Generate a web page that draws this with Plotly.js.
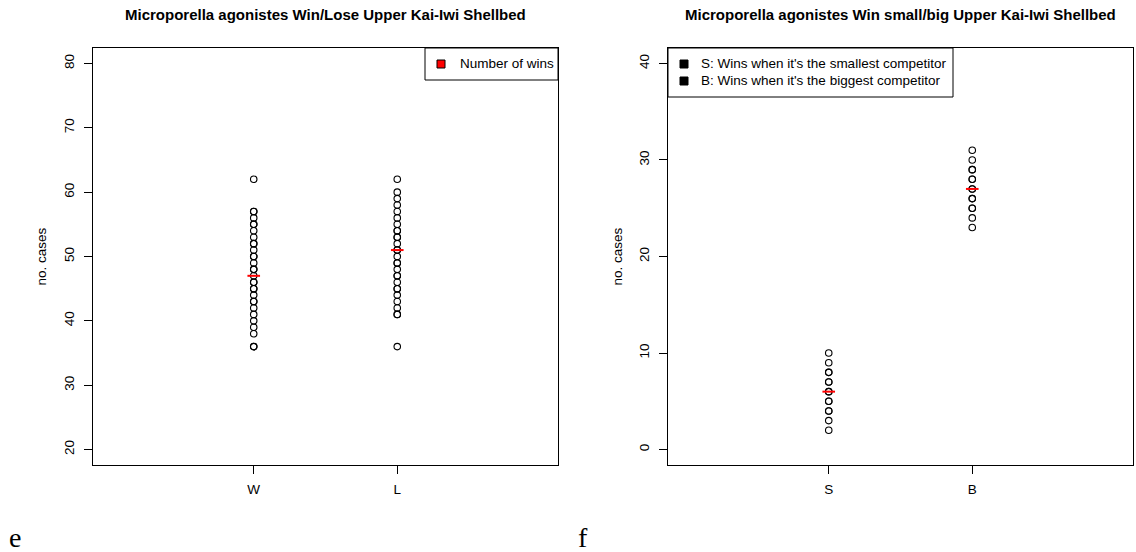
<!DOCTYPE html>
<html>
<head>
<meta charset="utf-8">
<script src="https://cdn.plot.ly/plotly-3.0.1.min.js"></script>
<style>html,body{margin:0;padding:0;background:#fff;}#chart{width:1136px;height:552px;}</style>
</head>
<body>
<div id="chart"></div>
<script>
// ---- data ----
var catsWL = ['W', 'L'];
var winsW = [62, 57, 57, 56, 55, 55, 54, 53, 52, 52, 51, 50, 50, 49, 48, 48, 47, 46, 46, 45, 45, 44, 43, 43, 42, 41, 40, 39, 38, 36, 36];
var winsL = [62, 60, 59, 58, 57, 56, 55, 54, 54, 53, 53, 52, 51, 51, 50, 49, 49, 48, 47, 47, 46, 45, 45, 44, 43, 42, 41, 41, 36];
var meanWL = [47, 51];

var catsSB = ['S', 'B'];
var winsS = [10, 9, 8, 8, 7, 7, 6, 6, 5, 5, 4, 4, 3, 2];
var winsB = [31, 30, 29, 29, 28, 28, 27, 27, 26, 26, 25, 25, 24, 23];
var meanSB = [6, 27];

var ticksWL = [20, 30, 40, 50, 60, 70, 80];
var ticksSB = [0, 10, 20, 30, 40];
var catPos = [1, 2];

var titleWL = 'Microporella agonistes Win/Lose Upper Kai-Iwi Shellbed';
var titleSB = 'Microporella agonistes Win small/big Upper Kai-Iwi Shellbed';
var legendWL = ['Number of wins'];
var legendSB = ["S: Wins when it's the smallest competitor", "B: Wins when it's the biggest competitor"];

// ---- build ----
var W = 1136, H = 552;
function px(x) { return x / W; }
function py(y) { return 1 - y / H; }
var FONT = 'Liberation Sans, Arial, Helvetica, sans-serif';
var FS = 13.5;

function fill(v, n) { var a = []; for (var i = 0; i < n; i++) a.push(v); return a; }

var ptMarker = { symbol: 'circle-open', size: 6.5, color: '#000', line: { width: 1.1, color: '#000' } };
var meanMarker = { symbol: 'line-ew-open', size: 9, color: '#ff0000', line: { width: 2, color: '#ff0000' } };

var traces = [
  { type: 'scatter', mode: 'markers', x: fill(catPos[0], winsW.length), y: winsW, marker: ptMarker, xaxis: 'x', yaxis: 'y', hoverinfo: 'y' },
  { type: 'scatter', mode: 'markers', x: fill(catPos[1], winsL.length), y: winsL, marker: ptMarker, xaxis: 'x', yaxis: 'y', hoverinfo: 'y' },
  { type: 'scatter', mode: 'markers', x: catPos, y: meanWL, marker: meanMarker, xaxis: 'x', yaxis: 'y' },
  { type: 'scatter', mode: 'markers', x: fill(catPos[0], winsS.length), y: winsS, marker: ptMarker, xaxis: 'x2', yaxis: 'y2', hoverinfo: 'y' },
  { type: 'scatter', mode: 'markers', x: fill(catPos[1], winsB.length), y: winsB, marker: ptMarker, xaxis: 'x2', yaxis: 'y2', hoverinfo: 'y' },
  { type: 'scatter', mode: 'markers', x: catPos, y: meanSB, marker: meanMarker, xaxis: 'x2', yaxis: 'y2' }
];

function xax(domain, cats) {
  return {
    domain: domain, range: [-0.12, 3.12], tickmode: 'array', tickvals: catPos, ticktext: cats,
    ticks: 'outside', ticklen: 8, tickcolor: '#000', tickwidth: 1, showline: true, mirror: true,
    linecolor: '#000', linewidth: 1, showgrid: false, zeroline: false, automargin: false,
    tickfont: { family: FONT, size: FS, color: '#000' }, ticklabelstandoff: 4, fixedrange: true
  };
}
function yax(domain, rng, tv, anchor) {
  return {
    domain: domain, range: rng, tickmode: 'array', tickvals: tv, ticktext: tv.map(String),
    ticks: 'outside', ticklen: 8, tickcolor: '#000', tickwidth: 1, showline: true, mirror: true,
    linecolor: '#000', linewidth: 1, showgrid: false, zeroline: false, automargin: false,
    tickangle: -90, tickfont: { family: FONT, size: FS, color: '#000' }, anchor: anchor,
    ticklabelstandoff: 5, fixedrange: true
  };
}

var yDom = [py(465), py(48)];
var layout = {
  width: W, height: H, margin: { l: 0, r: 0, t: 0, b: 0 }, showlegend: false,
  paper_bgcolor: '#fff', plot_bgcolor: '#fff',
  xaxis: xax([px(93), px(558)], catsWL),
  yaxis: yax(yDom, [17.6, 82.4], ticksWL, 'x'),
  xaxis2: Object.assign(xax([px(668), px(1133)], catsSB), { anchor: 'y2' }),
  yaxis2: yax(yDom, [-1.6, 41.6], ticksSB, 'x2'),
  annotations: [], shapes: []
};
layout.xaxis.anchor = 'y';

var ann = layout.annotations, shp = layout.shapes;
function text(t, x, y, opts) {
  ann.push(Object.assign({ text: t, x: px(x), y: py(y), xref: 'paper', yref: 'paper', showarrow: false,
    xanchor: 'center', yanchor: 'middle', font: { family: FONT, size: FS, color: '#000' } }, opts || {}));
}
// titles
text('<b>' + titleWL + '</b>', 325.5, 14, { font: { family: FONT, size: 15, color: '#000' } });
text('<b>' + titleSB + '</b>', 900.5, 14, { font: { family: FONT, size: 15, color: '#000' } });
// y axis titles
text('no. cases', 41, 256.5, { textangle: -90 });
text('no. cases', 617, 256.5, { textangle: -90 });
// panel letters
text('e', 15, 537, { font: { family: 'Liberation Serif, Times New Roman, serif', size: 28, color: '#000' } });
text('f', 583, 537, { font: { family: 'Liberation Serif, Times New Roman, serif', size: 28, color: '#000' } });

function rect(x0, y0, x1, y1, fc, lc) {
  shp.push({ type: 'rect', xref: 'paper', yref: 'paper', x0: px(x0), x1: px(x1), y0: py(y1), y1: py(y0),
    fillcolor: fc, line: { color: lc, width: 1 } });
}
// legend WL (top right)
rect(425, 48, 558, 80, '#fff', '#000');
rect(437, 60, 445, 68, '#ff0000', '#000');
text(legendWL[0], 458, 64, { xanchor: 'left' });
// legend SB (top left)
rect(668, 48, 953, 97, '#fff', '#000');
rect(680, 60, 688, 68, '#000', '#000');
rect(680, 77, 688, 85, '#000', '#000');
text(legendSB[0], 699, 64, { xanchor: 'left' });
text(legendSB[1], 699, 81, { xanchor: 'left' });

Plotly.newPlot('chart', traces, layout, { displayModeBar: false, staticPlot: true });
</script>
</body>
</html>
